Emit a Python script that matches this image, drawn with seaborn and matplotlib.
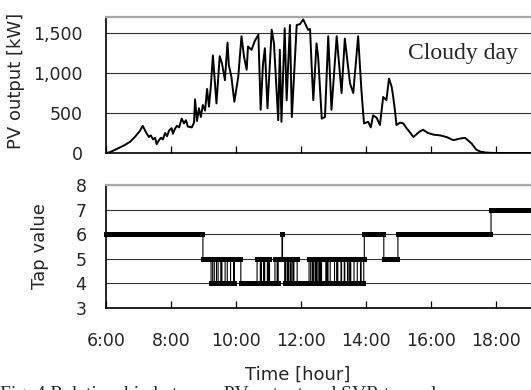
import numpy as np
import pandas as pd
import matplotlib
matplotlib.use("Agg")
import matplotlib.pyplot as plt
import seaborn as sns

# PV output on a cloudy day (hour of day, kW)
pv_hours = [
    6.00, 6.12, 6.28, 6.43, 6.58, 6.74, 6.89, 7.05, 7.13, 7.23, 7.32, 7.38,
    7.45, 7.51, 7.56, 7.63, 7.69, 7.75, 7.82, 7.88, 7.94, 8.02, 8.06, 8.12,
    8.18, 8.25, 8.33, 8.40, 8.46, 8.52, 8.64, 8.71, 8.74, 8.80, 8.86, 8.92,
    8.98, 9.05, 9.11, 9.17, 9.23, 9.29, 9.40, 9.50, 9.57, 9.66, 9.74, 9.78,
    9.86, 9.95, 10.07, 10.17, 10.25, 10.33, 10.37, 10.48, 10.58, 10.69,
    10.76, 10.83, 10.89, 10.97, 11.10, 11.17, 11.30, 11.35, 11.40, 11.50,
    11.56, 11.66, 11.72, 11.87, 11.97, 12.07, 12.15, 12.22, 12.28, 12.33,
    12.38, 12.48, 12.53, 12.64, 12.74, 12.84, 12.94, 13.10, 13.25, 13.35,
    13.51, 13.61, 13.76, 13.86, 13.94, 14.07, 14.15, 14.22, 14.33, 14.43,
    14.53, 14.63, 14.71, 14.79, 14.84, 14.89, 14.94, 15.05, 15.15, 15.25,
    15.35, 15.46, 15.57, 15.66, 15.76, 15.91, 16.07, 16.28, 16.48, 16.69,
    16.89, 17.05, 17.25, 17.40, 17.54, 17.71, 17.97, 19.10,
]
pv_kw = [
    0, 10, 40, 70, 100, 140, 200, 280, 340, 260, 200, 220,
    170, 190, 110, 160, 190, 170, 250, 210, 280, 310, 240, 300,
    340, 320, 430, 370, 410, 330, 320, 380, 670, 400, 560, 450,
    600, 530, 800, 580, 850, 1220, 620, 1210, 1120, 910, 1380, 1100,
    950, 640, 950, 1460, 1200, 1040, 1330, 1290, 1400, 1480,
    540, 1100, 1310, 560, 1540, 1370, 410, 1290, 390, 1560,
    660, 1600, 450, 1600, 1610, 1670, 1600, 1540, 1550, 1080,
    660, 1370, 1200, 430, 450, 1460, 540, 1460, 750, 1430,
    870, 750, 1460, 790, 370, 390, 320, 470, 440, 350,
    700, 660, 930, 830, 700, 540, 350, 380, 370, 310,
    260, 200, 240, 270, 290, 250, 230, 220, 200, 160,
    180, 190, 120, 40, 15, 5, 0, 0,
]

# SVR tap position: hour at which the tap changes and the new tap value
tap_change_hours = [
    6.00, 8.97, 9.22, 9.28, 9.32, 9.40, 9.44, 9.52, 9.56, 9.66, 9.72, 9.82,
    9.92, 9.95, 10.15, 10.65, 10.74, 10.77, 10.84, 10.87, 10.96, 10.99,
    11.03, 11.20, 11.26, 11.30, 11.41, 11.43, 11.50, 11.53, 11.58, 11.61,
    11.66, 11.69, 11.75, 11.78, 11.88, 12.25, 12.30, 12.34, 12.38, 12.42,
    12.46, 12.50, 12.55, 12.58, 12.60, 12.63, 12.76, 12.80, 12.83, 12.90,
    13.03, 13.10, 13.13, 13.22, 13.25, 13.32, 13.35, 13.42, 13.45, 13.50,
    13.53, 13.62, 13.72, 13.82, 13.85, 13.92, 13.95, 14.55, 14.97, 17.84,
]
tap_change_values = [
    6, 5, 4, 5, 4, 5, 4, 5, 4, 5, 4, 5,
    4, 5, 4, 5, 4, 5, 4, 5, 4, 5,
    4, 5, 4, 5, 6, 5, 4, 5, 4, 5,
    4, 5, 4, 5, 4, 5, 4, 5, 4, 5,
    4, 5, 4, 5, 4, 5, 4, 5, 4, 5,
    4, 5, 4, 5, 4, 5, 4, 5, 4, 5,
    4, 5, 4, 5, 4, 5, 6, 5, 6, 7,
]

hour_ticks = [6, 8, 10, 12, 14, 16, 18]
hour_labels = ["6:00", "8:00", "10:00", "12:00", "14:00", "16:00", "18:00"]
pv_ticks = [0, 500, 1000, 1500]
pv_labels = ["0", "500", "1,000", "1,500"]
tap_ticks = [3, 4, 5, 6, 7, 8]

X_END = 19.08

sns.set_style("white")
plt.rcParams["font.family"] = ["DejaVu Sans"]

pv = pd.DataFrame({"hour": pv_hours, "kw": pv_kw})

# the tap is logged every minute; hold the last change value
minutes = np.arange(6.0, X_END + 1e-9, 1 / 60)
idx = np.searchsorted(tap_change_hours, minutes + 1e-9, side="right") - 1
tap = pd.DataFrame({"hour": minutes, "tap": np.array(tap_change_values)[idx]})

fig = plt.figure(figsize=(5.31, 3.90), dpi=100)
ax1 = fig.add_axes([0.1996, 0.6077, 0.8004, 0.3487])
ax2 = fig.add_axes([0.1996, 0.2103, 0.8004, 0.3154])


def style_axis(ax):
    ax.set_xlim(6, X_END)
    ax.set_xticks(hour_ticks)
    ax.grid(axis="y", color="#333333", linewidth=0.8)
    ax.grid(axis="x", visible=False)
    ax.set_axisbelow(True)
    for side in ["left", "bottom"]:
        ax.spines[side].set_color("black")
        ax.spines[side].set_linewidth(1.2)
    ax.spines["top"].set_color("#a8a8a8")
    ax.spines["top"].set_linewidth(1.6)
    ax.spines["right"].set_visible(False)
    ax.tick_params(axis="x", direction="in", length=5, width=0.9,
                   color="black", bottom=True)
    ax.tick_params(axis="y", length=0, labelsize=12.5)


sns.lineplot(data=pv, x="hour", y="kw", ax=ax1, color="black",
             linewidth=1.4, estimator=None, sort=False)
style_axis(ax1)
ax1.set_ylim(0, 1700)
ax1.set_yticks(pv_ticks)
ax1.set_yticklabels(pv_labels)
ax1.tick_params(axis="y", pad=17)
ax1.set_xticklabels([])
ax1.set_xlabel("")
ax1.set_ylabel("PV output [kW]", fontsize=13)
ax1.yaxis.set_label_coords(-0.19, 0.53)
ax1.text(15.29, 1250, "Cloudy day", family="Liberation Serif",
         fontsize=17, ha="left", va="center")

sns.lineplot(data=tap, x="hour", y="tap", ax=ax2, color="black",
             linewidth=0.8, estimator=None, drawstyle="steps-post",
             marker="s", markersize=3.6, markeredgewidth=0, clip_on=False)
style_axis(ax2)
ax2.set_ylim(3, 8)
ax2.set_yticks(tap_ticks)
ax2.tick_params(axis="y", pad=14)
ax2.set_xticklabels(hour_labels)
ax2.tick_params(axis="x", labelsize=12.5, pad=17)
ax2.set_xlabel("")
ax2.set_ylabel("Tap value", fontsize=13)
ax2.yaxis.set_label_coords(-0.133, 0.5)

fig.text(298 / 531, 1 - 380 / 390, "Time [hour]", fontsize=13,
         ha="center", va="baseline")
fig.text(0.0, 1 - 399 / 390, "Fig. 4 Relationship between PV output and SVR tap value",
         family="Liberation Serif", fontsize=14, ha="left", va="baseline")

fig.savefig("out.png", dpi=100)
